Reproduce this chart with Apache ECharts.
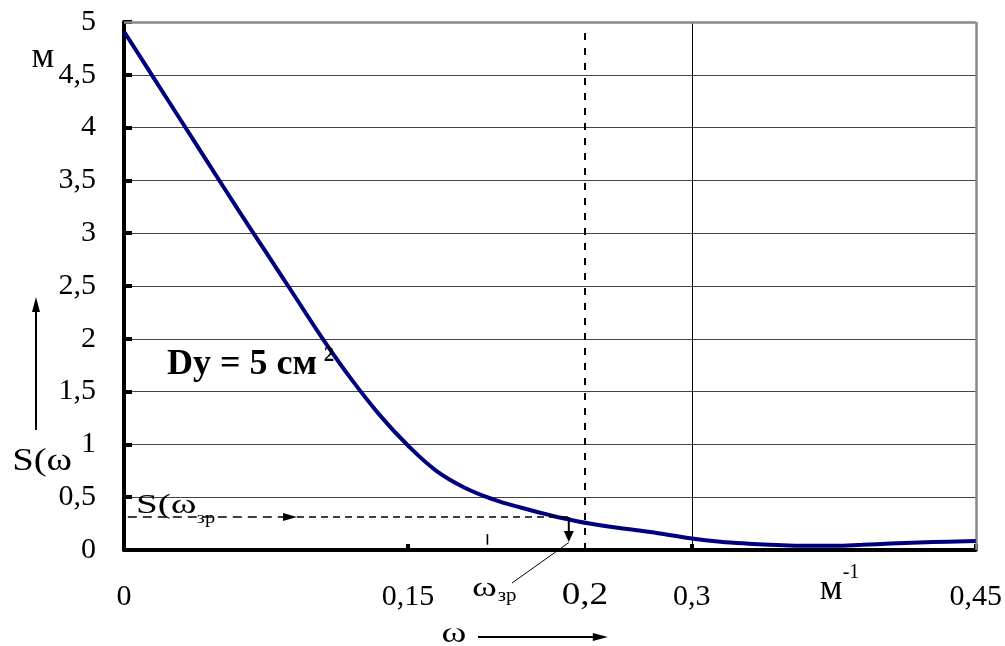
<!DOCTYPE html>
<html><head><meta charset="utf-8">
<script src="https://cdn.jsdelivr.net/npm/echarts@6/dist/echarts.min.js"></script>
<style>html,body{margin:0;padding:0;background:#fff}#c{width:1005px;height:646px}</style>
</head><body><div id="c"></div>
<script>
// ---- data ----
const omega    = [0, 0.015, 0.03, 0.045, 0.06, 0.075, 0.09, 0.105, 0.12, 0.135, 0.15, 0.165, 0.18, 0.195, 0.21, 0.225, 0.24, 0.255, 0.27, 0.285, 0.30, 0.315, 0.33, 0.345, 0.36, 0.375, 0.39, 0.405, 0.42, 0.435, 0.45];
const spectrum = [4.91, 4.49, 4.07, 3.65, 3.23, 2.82, 2.41, 2.00, 1.62, 1.28, 0.99, 0.75, 0.59, 0.48, 0.40, 0.33, 0.27, 0.225, 0.19, 0.152, 0.108, 0.078, 0.06, 0.047, 0.04, 0.04, 0.049, 0.061, 0.071, 0.079, 0.086];
const xTicks = [0, 0.15, 0.3, 0.45];
const xTickLabels = ['0', '0,15', '0,3', '0,45'];
const yTickLabels = ['0', '0,5', '1', '1,5', '2', '2,5', '3', '3,5', '4', '4,5', '5'];
const cutoffOmega = 0.2435;   // dashed vertical line
const cutoffTop = 4.92;
const zrOmega = 0.235;        // omega_zr arrow
const zrLevel = 0.3125;       // S(omega_zr) level
const minorTickOmega = 0.192;
const solidGridOmega = [0.3];

const SERIF = '"Liberation Serif","Times New Roman",serif';
const chart = echarts.init(document.getElementById('c'), null, {renderer: 'canvas'});

chart.setOption({
  animation: false,
  grid: {left: 124, right: 29, top: 22, bottom: 96},
  xAxis: {
    type: 'value', min: 0, max: 0.45, interval: 0.15,
    axisLine: {lineStyle: {color: '#000', width: 4}},
    axisTick: {inside: true, length: 6, lineStyle: {color: '#000', width: 4}},
    axisLabel: {margin: 32, fontFamily: SERIF, fontSize: 30, color: '#000',
      formatter: v => { const i = xTicks.findIndex(t => Math.abs(t - v) < 1e-9); return i >= 0 ? xTickLabels[i] : ''; }},
    splitLine: {show: false}
  },
  yAxis: {
    type: 'value', min: 0, max: 5, interval: 0.5,
    axisLine: {show: true, lineStyle: {color: '#000', width: 4}},
    axisTick: {show: true, inside: true, length: 8, lineStyle: {color: '#000', width: 4}},
    axisLabel: {margin: 28, fontFamily: SERIF, fontSize: 30, color: '#000',
      formatter: v => yTickLabels[Math.round(v / 0.5)]},
    splitLine: {lineStyle: {color: '#444', width: 1.2}}
  },
  series: [{
    type: 'line', data: omega.map((w, i) => [w, spectrum[i]]),
    smooth: 0.4, symbol: 'none', z: 5,
    lineStyle: {color: '#00007f', width: 4},
    markLine: {
      silent: true, symbol: 'none', label: {show: false}, z: 3,
      data: [
        [{coord: [solidGridOmega[0], 0], lineStyle: {color: '#000', width: 1, type: 'solid'}}, {coord: [solidGridOmega[0], 5]}],
        [{coord: [0.45, 0], lineStyle: {color: '#888', width: 2.5, type: 'solid'}}, {coord: [0.45, 5]}],
        [{coord: [0, 5], lineStyle: {color: '#888', width: 2.5, type: 'solid'}}, {coord: [0.45, 5]}],
        [{coord: [cutoffOmega, 0], lineStyle: {color: '#000', width: 2, type: [7, 8]}}, {coord: [cutoffOmega, cutoffTop]}]
      ]
    }
  }]
});

function P(x, y) { return chart.convertToPixel({gridIndex: 0}, [x, y]); }
const els = [];
function txt(str, x, y, size, opt) {
  opt = opt || {};
  const p = P(x, y);
  els.push({type: 'text', x: p[0], y: p[1], z: 20, scaleX: opt.sx || 1,
    style: {text: str, font: (opt.bold ? 'bold ' : '') + size + 'px ' + SERIF, fill: '#000',
      textAlign: opt.align || 'left', textVerticalAlign: 'middle'}});
}
function line(a, b, width, dash) {
  const p1 = P(a[0], a[1]), p2 = P(b[0], b[1]);
  els.push({type: 'line', z: 20, shape: {x1: p1[0], y1: p1[1], x2: p2[0], y2: p2[1]},
    style: {stroke: '#000', lineWidth: width, lineDash: dash || null}});
}
function head(tip, from, len, halfW) {
  const t = P(tip[0], tip[1]), f = P(from[0], from[1]);
  const dx = t[0] - f[0], dy = t[1] - f[1], L = Math.hypot(dx, dy), ux = dx / L, uy = dy / L;
  const bx = t[0] - ux * len, by = t[1] - uy * len;
  els.push({type: 'polygon', z: 21, shape: {points: [[t[0], t[1]], [bx - uy * halfW, by + ux * halfW], [bx + uy * halfW, by - ux * halfW]]},
    style: {fill: '#000'}});
}

// unit of S
txt('м', -0.0428, 4.66, 36, {align: 'center'});
// S(ω with up arrow
txt('S(ω', -0.0591, 0.83, 31, {sx: 1.25});
line([-0.0465, 1.136], [-0.0465, 2.30], 2);
head([-0.0465, 2.396], [-0.0465, 1.136], 15, 4);
// S(ω_зр) label on plot
txt('S(ω', 0.0063, 0.42, 27, {sx: 1.45});
txt('зр', 0.0385, 0.30, 17, {sx: 1.2});
// horizontal dashed arrow
line([0.002, zrLevel], [0.088, zrLevel], 1.6, [9, 6]);
head([0.0914, zrLevel], [0.002, zrLevel], 14, 4);
line([0.0914, zrLevel], [zrOmega, zrLevel], 1.4, [7, 5]);
// vertical arrow down to omega_zr
line([zrOmega, zrLevel], [zrOmega, 0.14], 2);
head([zrOmega, 0.076], [zrOmega, zrLevel], 11, 5);
// leader line
line([zrOmega, 0.07], [0.205, -0.3125], 1);
// omega_zr label below axis
txt('ω', 0.1838, -0.37, 28, {sx: 1.35});
txt('зр', 0.1975, -0.44, 19, {sx: 1.1});
// 0,2 label
txt('0,2', cutoffOmega, -0.43, 31, {align: 'center', sx: 1.2});
// minor tick
line([minorTickOmega, 0.05], [minorTickOmega, 0.15], 1.6);
// omega arrow
txt('ω', 0.1743, -0.80, 29, {align: 'center', sx: 1.3});
line([0.187, -0.824], [0.250, -0.824], 2);
head([0.2556, -0.824], [0.187, -0.824], 15, 4);
// м^-1
txt('м', 0.3676, -0.37, 36);
txt('-1', 0.3797, -0.22, 20);
// Dy = 5 см²
txt('Dy = 5 см', 0.0227, 1.75, 36, {bold: true});
txt('2', 0.1055, 1.84, 21, {bold: true});

chart.setOption({graphic: {elements: els}});
</script>
</body></html>
